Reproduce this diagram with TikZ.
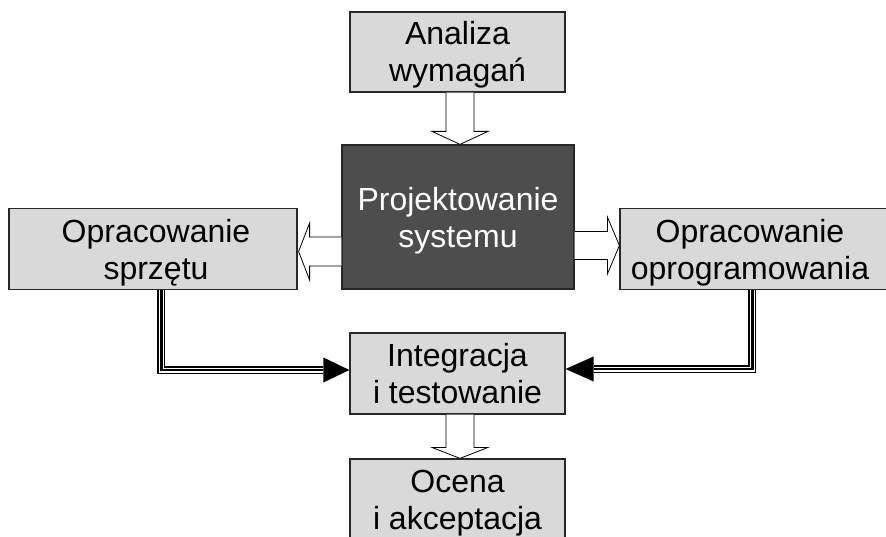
\documentclass[tikz,border=0pt]{standalone}
\usepackage{fontspec}
\setmainfont{Liberation Sans}
\usetikzlibrary{calc}
\definecolor{boxgray}{RGB}{217,217,217}
\definecolor{darkbox}{RGB}{77,77,77}
\definecolor{edge}{RGB}{40,40,40}
\begin{document}
\begin{tikzpicture}[x=1pt,y=-1pt,
 lbl/.style={align=center, inner sep=0pt, font=\fontsize{32}{37}\selectfont},
 box/.style={draw=edge, line width=1.2pt, fill=boxgray, inner sep=0pt},
 blockarrow/.style={draw=black, line width=0.8pt, fill=white, line join=miter},
 tripleline/.style={line width=8pt, draw=black, postaction={draw=white, line width=5pt}, postaction={draw=black, line width=2.6pt}},
 ]
\useasboundingbox (0,0) rectangle (886,537);
\fill[white] (0,0) rectangle (886,537);

\node[box, minimum width=215, minimum height=80] (ana) at (457.5,52) {};
\node[lbl] (anat) at (457.5,55) {Analiza\\wymagań};
\node[box, fill=darkbox, minimum width=232, minimum height=144] (proj) at (458,217) {};
\node[lbl, text=white] (projt) at (458,221) {Projektowanie\\systemu};
\node[box, minimum width=288, minimum height=81] (hw) at (153,249) {};
\node[lbl] (hwt) at (156,253) {Opracowanie\\sprzętu};
\node[box, minimum width=280, minimum height=81] (sw) at (760,249) {};
\node[lbl] (swt) at (750,253) {Opracowanie\\oprogramowania};
\node[box, minimum width=215, minimum height=81] (int) at (457.5,373.5) {};
\node[lbl] (intt) at (457.5,374) {Integracja\\i testowanie};
\node[box, minimum width=215, minimum height=82] (oc) at (457.5,500) {};
\node[lbl] (oct) at (457.5,503) {Ocena\\i akceptacja};

% down arrow: ana -> proj
\coordinate (a1) at ($(ana.south)+(2.5,0)$);
\coordinate (a1t) at (a1 |- proj.north);
\draw[blockarrow] ($(a1)+(-14,0)$) -- ($(a1t)+(-14,-13)$) -- ($(a1t)+(-28,-13)$) -- (a1t) -- ($(a1t)+(28,-13)$) -- ($(a1t)+(14,-13)$) -- ($(a1)+(14,0)$);

% down arrow: int -> oc
\coordinate (b1) at ($(int.south)+(2.5,0)$);
\coordinate (b1t) at (b1 |- oc.north);
\draw[blockarrow] ($(b1)+(-14,0)$) -- ($(b1t)+(-14,-11)$) -- ($(b1t)+(-28,-11)$) -- (b1t) -- ($(b1t)+(28,-11)$) -- ($(b1t)+(14,-11)$) -- ($(b1)+(14,0)$);

% left arrow: proj -> hw
\coordinate (lt) at ($(hw.east)+(1,2.5)$);
\coordinate (ls) at (proj.west |- lt);
\draw[blockarrow] ($(ls)+(0,-14.5)$) -- ($(lt)+(11,-14.5)$) -- ($(lt)+(11,-28.5)$) -- (lt) -- ($(lt)+(11,28.5)$) -- ($(lt)+(11,14.5)$) -- ($(ls)+(0,14.5)$);

% right arrow: proj -> sw
\coordinate (rt) at ($(sw.west)+(0,-3.5)$);
\coordinate (rs) at (proj.east |- rt);
\draw[blockarrow] ($(rs)+(0,-14)$) -- ($(rt)+(-12,-14)$) -- ($(rt)+(-12,-28.5)$) -- (rt) -- ($(rt)+(-12,28.5)$) -- ($(rt)+(-12,14)$) -- ($(rs)+(0,14)$);

% triple connectors
\coordinate (hwtip) at ($(int.west)+(0,-3.5)$);
\draw[tripleline] ($(hw.south west)+(153,0)$) |- ($(hwtip)+(-26,0)$);
\fill[black] (hwtip) -- ++(-26,-12.5) -- ++(0,25) -- cycle;

\coordinate (swtip) at ($(int.east)+(0,-4.5)$);
\draw[tripleline] ($(sw.south west)+(133,0)$) |- ($(swtip)+(28,0)$);
\fill[black] (swtip) -- ++(28,-12.5) -- ++(0,25) -- cycle;
\end{tikzpicture}
\end{document}
